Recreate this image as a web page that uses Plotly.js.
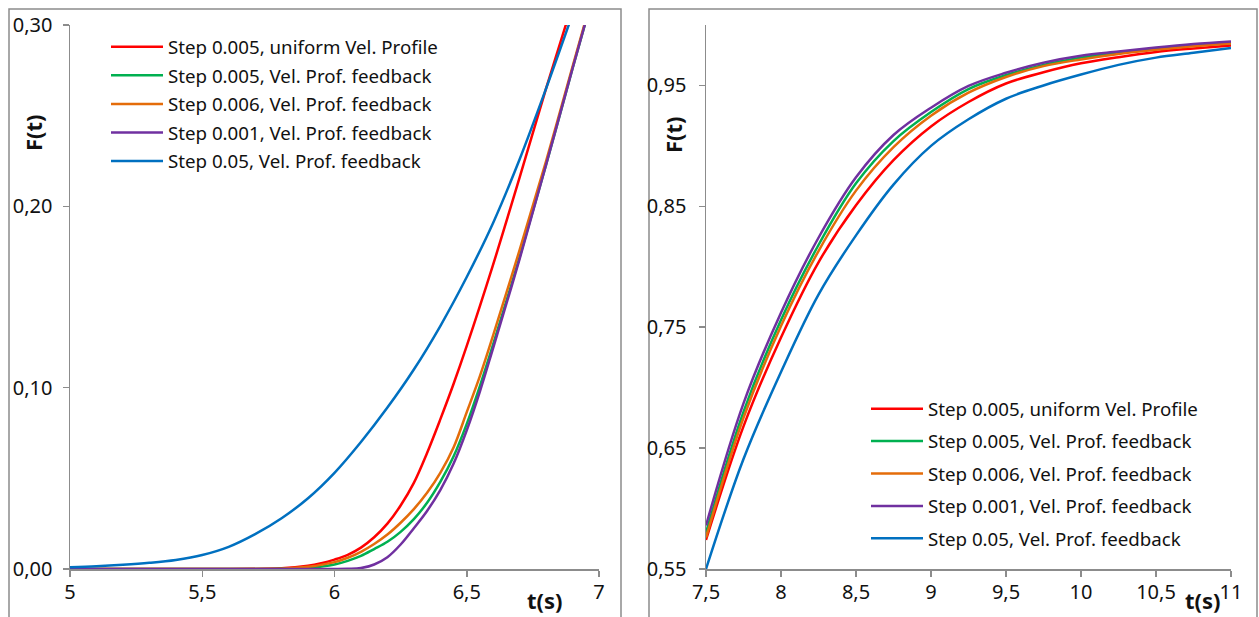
<!DOCTYPE html>
<html>
<head>
<meta charset="utf-8">
<script src="https://cdn.plot.ly/plotly-3.0.1.min.js"></script>
<style>html,body{margin:0;padding:0;background:#fff;}#chart{width:1259px;height:617px;}</style>
</head>
<body>
<div id="chart"></div>
<script>
// ---- Data ----
var seriesNames = [
  "Step 0.005, uniform Vel. Profile",
  "Step 0.005, Vel. Prof. feedback",
  "Step 0.006, Vel. Prof. feedback",
  "Step 0.001, Vel. Prof. feedback",
  "Step 0.05, Vel. Prof. feedback"
];
var seriesColors = ["#ff0000", "#00b050", "#e46c0a", "#7030a0", "#0070c0"];

// Left panel: early times 5..7 s
var tLeftRed    = [5.0, 5.4, 5.8, 5.9, 5.95, 6.0, 6.05, 6.1, 6.15, 6.2, 6.25, 6.3, 6.35, 6.4, 6.45, 6.5, 6.6, 6.7, 6.8, 6.9];
var fLeftRed    = [0, 0, 0.0004, 0.0018, 0.0032, 0.0052, 0.0078, 0.0118, 0.0175, 0.025, 0.035, 0.0475, 0.064, 0.0825, 0.102, 0.123, 0.168, 0.216, 0.265, 0.312];
var tLeftGreen  = [5.0, 5.4, 5.8, 5.9, 6.0, 6.05, 6.1, 6.15, 6.2, 6.25, 6.3, 6.35, 6.4, 6.45, 6.5, 6.55, 6.6, 6.7, 6.8, 6.9, 6.95];
var fLeftGreen  = [0, 0, 0.0001, 0.0006, 0.0025, 0.0045, 0.0072, 0.011, 0.015, 0.0205, 0.0275, 0.0365, 0.048, 0.062, 0.080, 0.101, 0.124, 0.172, 0.223, 0.276, 0.302];
var tLeftOrange = [5.0, 5.4, 5.8, 5.9, 6.0, 6.05, 6.1, 6.15, 6.2, 6.25, 6.3, 6.35, 6.4, 6.45, 6.5, 6.55, 6.6, 6.7, 6.8, 6.9, 6.95];
var fLeftOrange = [0, 0, 0.0002, 0.0012, 0.0038, 0.0062, 0.0095, 0.0138, 0.019, 0.0255, 0.033, 0.042, 0.053, 0.067, 0.0865, 0.1065, 0.129, 0.176, 0.225, 0.277, 0.303];
var tLeftPurple = [5.0, 5.4, 5.8, 6.0, 6.05, 6.1, 6.15, 6.2, 6.25, 6.3, 6.35, 6.4, 6.45, 6.5, 6.55, 6.6, 6.7, 6.8, 6.9, 6.95];
var fLeftPurple = [0, 0, 0, 0, 0.0001, 0.0005, 0.0025, 0.0065, 0.0135, 0.0225, 0.032, 0.0435, 0.058, 0.0765, 0.098, 0.122, 0.171, 0.223, 0.276, 0.302];
var tLeftBlue   = [5.0, 5.1, 5.2, 5.3, 5.4, 5.5, 5.6, 5.7, 5.8, 5.9, 6.0, 6.1, 6.2, 6.3, 6.4, 6.5, 6.6, 6.7, 6.8, 6.9];
var fLeftBlue   = [0.001, 0.0015, 0.0023, 0.0034, 0.005, 0.0077, 0.0122, 0.0192, 0.028, 0.039, 0.053, 0.070, 0.089, 0.110, 0.134, 0.161, 0.191, 0.226, 0.265, 0.306];

// Right panel: late times 7.5..11 s
var tRight       = [7.5, 7.75, 8.0, 8.25, 8.5, 8.75, 9.0, 9.25, 9.5, 9.75, 10.0, 10.25, 10.5, 10.75, 11.0];
var fRightRed    = [0.574, 0.668, 0.7415, 0.8037, 0.8509, 0.8882, 0.9161, 0.9363, 0.9516, 0.9609, 0.9683, 0.9734, 0.9777, 0.9806, 0.9831];
var fRightGreen  = [0.580, 0.680, 0.756, 0.818, 0.869, 0.904, 0.928, 0.947, 0.9585, 0.967, 0.973, 0.977, 0.9804, 0.9832, 0.985];
var fRightOrange = [0.576, 0.675, 0.751, 0.813, 0.863, 0.899, 0.925, 0.944, 0.957, 0.966, 0.9715, 0.976, 0.9795, 0.9825, 0.9848];
var fRightPurple = [0.586, 0.687, 0.762, 0.824, 0.874, 0.909, 0.9316, 0.9496, 0.9605, 0.9688, 0.9745, 0.978, 0.9814, 0.9843, 0.9864];
var fRightBlue   = [0.550, 0.641, 0.713, 0.777, 0.826, 0.868, 0.900, 0.922, 0.939, 0.950, 0.959, 0.967, 0.973, 0.977, 0.981];

var leftX = [tLeftRed, tLeftGreen, tLeftOrange, tLeftPurple, tLeftBlue];
var leftY = [fLeftRed, fLeftGreen, fLeftOrange, fLeftPurple, fLeftBlue];
var rightY = [fRightRed, fRightGreen, fRightOrange, fRightPurple, fRightBlue];

var leftXTicks = [5, 5.5, 6, 6.5, 7];
var leftYTicks = [0, 0.1, 0.2, 0.3];
var rightXTicks = [7.5, 8, 8.5, 9, 9.5, 10, 10.5, 11];
var rightYTicks = [0.55, 0.65, 0.75, 0.85, 0.95];

// ---- Traces ----
var FONT = "Noto Sans, Open Sans, sans-serif";
var traces = [];
for (var i = 0; i < 5; i++) {
  traces.push({
    type: "scatter", mode: "lines", name: seriesNames[i],
    x: leftX[i], y: leftY[i], xaxis: "x", yaxis: "y",
    line: {color: seriesColors[i], width: 2.5, shape: "spline", smoothing: 1},
    legend: "legend", legendgroup: "L" + i, hoverinfo: "x+y+name"
  });
}
for (var j = 0; j < 5; j++) {
  traces.push({
    type: "scatter", mode: "lines", name: seriesNames[j],
    x: tRight, y: rightY[j], xaxis: "x2", yaxis: "y2",
    line: {color: seriesColors[j], width: 2.5, shape: "spline", smoothing: 1},
    legend: "legend2", legendgroup: "R" + j, hoverinfo: "x+y+name"
  });
}

var axisCommon = {
  showgrid: false, zeroline: false, showline: true,
  linecolor: "#8c8c8c", linewidth: 1.5,
  ticks: "outside", ticklen: 6, tickwidth: 1.5, tickcolor: "#8c8c8c",
  tickfont: {family: FONT, size: 20, color: "#111"}
};
function ax(extra) { return Object.assign({}, axisCommon, extra); }

// px -> paper helpers for decorations (plot area 70..1231 x 25..569)
var W = 1161, H = 544;
function px(v) { return (v - 70) / W; }
function py(v) { return (569 - v) / H; }

var layout = {
  width: 1259, height: 617,
  margin: {l: 70, r: 28, t: 25, b: 48, pad: 0},
  paper_bgcolor: "#ffffff", plot_bgcolor: "#ffffff",
  separators: ", ",
  font: {family: FONT, color: "#111"},
  showlegend: true,
  xaxis: ax({domain: [0, px(599)], range: [5, 7], tickvals: leftXTicks, anchor: "y", ticklabelstandoff: -2}),
  yaxis: ax({domain: [0, 1], range: [0, 0.3], tickvals: leftYTicks, tickformat: ".2f", anchor: "x", ticklabelstandoff: 6}),
  xaxis2: ax({domain: [px(706), 1], range: [7.5, 11], tickvals: rightXTicks, anchor: "y2", ticklabelstandoff: -2}),
  yaxis2: ax({domain: [0, 1], range: [0.55, 1.0], tickvals: rightYTicks, tickformat: ".2f", anchor: "x2", ticklabelstandoff: 8}),
  legend: {
    x: px(106), y: py(28), xanchor: "left", yanchor: "top",
    bgcolor: "rgba(0,0,0,0)", borderwidth: 0, itemwidth: 52,
    font: {family: FONT, size: 18.7, color: "#111"},
    tracegroupgap: 1.3, traceorder: "grouped"
  },
  legend2: {
    x: px(866), y: py(390), xanchor: "left", yanchor: "top",
    bgcolor: "rgba(0,0,0,0)", borderwidth: 0, itemwidth: 52,
    font: {family: FONT, size: 18.7, color: "#111"},
    tracegroupgap: 5.1, traceorder: "grouped"
  },
  shapes: [
    {type: "rect", xref: "paper", yref: "paper", x0: px(9), x1: px(621), y0: py(640), y1: py(9),
     line: {color: "#8c8c8c", width: 1.5}, fillcolor: "rgba(0,0,0,0)", layer: "below"},
    {type: "rect", xref: "paper", yref: "paper", x0: px(649), x1: px(1257), y0: py(640), y1: py(9),
     line: {color: "#8c8c8c", width: 1.5}, fillcolor: "rgba(0,0,0,0)", layer: "below"}
  ],
  annotations: [
    {text: "<b>F(t)</b>", xref: "paper", yref: "paper", x: px(33), y: py(133), textangle: -90,
     showarrow: false, font: {family: FONT, size: 22, color: "#111"}, xanchor: "center", yanchor: "middle"},
    {text: "<b>t(s)</b>", xref: "paper", yref: "paper", x: px(545), y: py(600),
     showarrow: false, font: {family: FONT, size: 22, color: "#111"}, xanchor: "center", yanchor: "middle"},
    {text: "<b>F(t)</b>", xref: "paper", yref: "paper", x: px(673), y: py(135), textangle: -90,
     showarrow: false, font: {family: FONT, size: 22, color: "#111"}, xanchor: "center", yanchor: "middle"},
    {text: "<b>t(s)</b>", xref: "paper", yref: "paper", x: px(1203), y: py(600),
     showarrow: false, font: {family: FONT, size: 22, color: "#111"}, xanchor: "center", yanchor: "middle"}
  ]
};

Plotly.newPlot("chart", traces, layout, {displayModeBar: false, staticPlot: true});
</script>
</body>
</html>
